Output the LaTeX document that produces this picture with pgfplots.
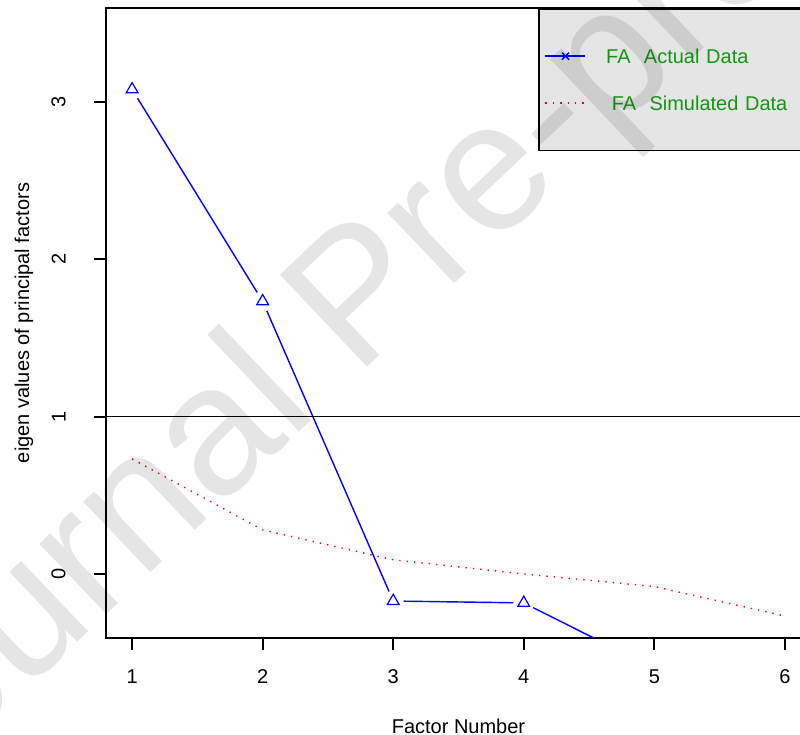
\documentclass[border=0pt]{standalone}
\usepackage{fontspec}
\setmainfont{Liberation Sans}
\usepackage{pgfplots}
\pgfplotsset{compat=1.18}
\definecolor{legbg}{RGB}{229,229,229}
\definecolor{leggreen}{RGB}{20,150,20}
\begin{document}
\begin{tikzpicture}[x=1pt,y=1pt]
\path[use as bounding box] (0,0) rectangle (400,367.5);
\begin{axis}[
  at={(53pt,48.5pt)}, anchor=south west,
  scale only axis, width=352.5pt, height=315pt,
  xmin=0.8, xmax=6.2, ymin=-0.407, ymax=3.597,
  xtick={1,2,3,4,5,6}, ytick={0,1,2,3},
  tick align=outside, major tick length=6pt,
  xtick pos=bottom, ytick pos=left,
  axis line style={line width=0.9pt},
  tick style={line width=0.9pt, black},
  font=\fontsize{10}{12}\selectfont,
  /pgf/number format/assume math mode=true,
  xticklabel style={anchor=north, inner sep=0pt, yshift=-9.5pt},
  yticklabel style={xshift=-14pt, rotate=90, anchor=south, inner sep=0pt},
  xlabel={Factor Number},
  ylabel={eigen values of principal factors},
  every axis x label/.style={at={(axis description cs:0.5,-0.1508)}, anchor=base, inner sep=0pt},
  every axis y label/.style={at={(axis description cs:-0.1092,0.5)}, rotate=90, anchor=base, inner sep=0pt},
  legend cell align=left,
  legend style={at={(rel axis cs:1,1)}, anchor=north east, fill=legbg, draw=black, line width=0.8pt,
    inner xsep=3pt, inner ysep=20.1pt, row sep=16.3pt, column sep=10pt,
    nodes={inner sep=0pt, text height=7.2pt, text depth=0pt, text=leggreen, font=\fontsize{10}{12}\selectfont},
    /tikz/column 2/.style={nodes={text width=99pt, align=left}}},
  legend image code/.code={\draw[mark repeat=2,mark phase=2,#1] plot coordinates {(0pt,0pt) (10pt,0pt) (20pt,0pt)};},
]
% Actual data (FA)
\addplot[blue, line width=0.7pt, forget plot] coordinates {
  (1,3.08) (2,1.733) (3,-0.172) (4,-0.184) (5,-0.60) (6,-0.85)};
\addplot[only marks, mark=*, mark size=5pt, white, forget plot] coordinates {
  (1,3.08) (2,1.733) (3,-0.172) (4,-0.184) (5,-0.60) (6,-0.85)};
\addplot[only marks, mark=triangle, mark size=3.4pt, blue, line width=0.6pt, forget plot] coordinates {
  (1,3.08) (2,1.733) (3,-0.172) (4,-0.184) (5,-0.60) (6,-0.85)};
% reference line at 1
\addplot[black, line width=0.8pt, forget plot] coordinates {(0.8,1) (6.2,1)};
% Simulated data
\addplot[red, line width=0.7pt, dash pattern=on 0.7pt off 3pt, forget plot] coordinates {
  (1,0.731) (2,0.28) (3,0.09) (4,0.0) (5,-0.08) (6,-0.267)};
% legend
\addlegendimage{blue, line width=0.7pt, mark=x, mark size=2.5pt}
\addlegendentry{FA\ \ Actual Data}
\addlegendimage{red, line width=0.7pt, dash pattern=on 0.7pt off 3pt}
\addlegendentry{\hspace*{0.278em}FA\ \ Simulated Data}
\end{axis}
\node[anchor=base west, rotate=43.5, inner sep=0pt, text=black, text opacity=0.1,
  font=\fontsize{92}{92}\selectfont] at (-59pt,-46.5pt) {Journal Pre-proof};
\end{tikzpicture}
\end{document}
